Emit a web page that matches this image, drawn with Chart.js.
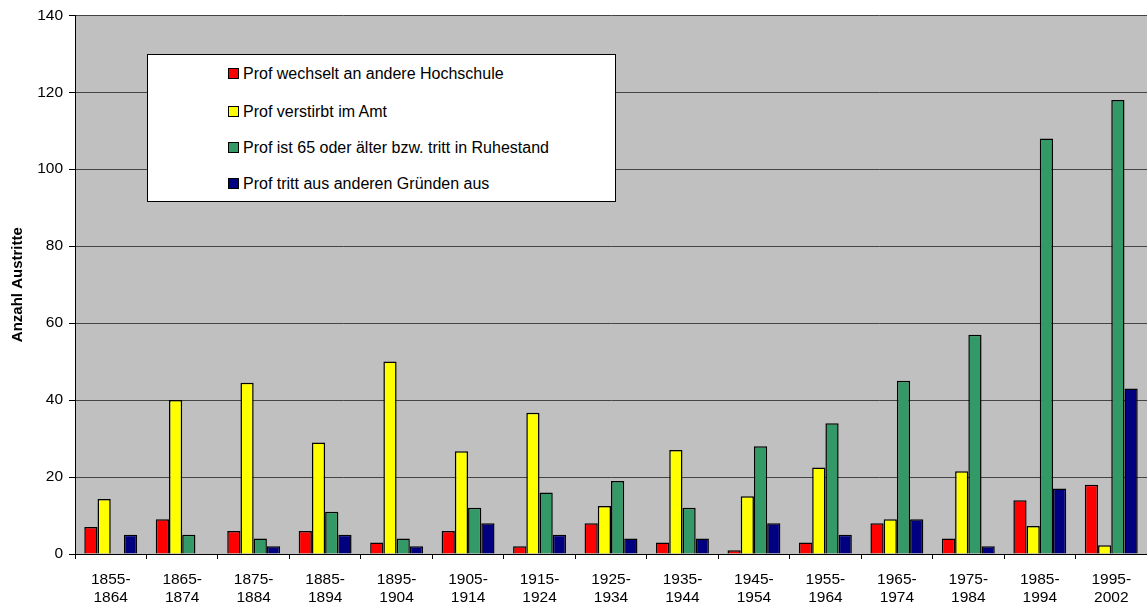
<!DOCTYPE html>
<html>
<head>
<meta charset="utf-8">
<script src="https://cdn.jsdelivr.net/npm/chart.js@4/dist/chart.umd.min.js"></script>
<style>
  html, body { margin: 0; padding: 0; background: #fff; }
  #wrap { position: relative; width: 1147px; height: 607px; }
  #legend {
    position: absolute; left: 147px; top: 54px; width: 467px; height: 146px;
    background: #fff; border: 1px solid #000;
    font-family: "Liberation Sans", Arial, sans-serif; font-size: 16px; color: #000;
  }
  #legend div { position: absolute; left: 80px; height: 20px; line-height: 20px; white-space: nowrap; }
  #legend span { display: inline-block; width: 9px; height: 9px; border: 1px solid #000; margin-right: 4px; vertical-align: 0px; }
</style>
</head>
<body>
<div id="wrap">
  <canvas id="chart" width="1147" height="607"></canvas>
  <div id="legend"></div>
</div>
<script>
var periods = [['1855-','1864'],['1865-','1874'],['1875-','1884'],['1885-','1894'],['1895-','1904'],
  ['1905-','1914'],['1915-','1924'],['1925-','1934'],['1935-','1944'],['1945-','1954'],
  ['1955-','1964'],['1965-','1974'],['1975-','1984'],['1985-','1994'],['1995-','2002']];

var wechsel   = [7, 9, 6, 6, 3, 6, 2, 8, 3, 1, 3, 8, 4, 14, 18];
var verstirbt = [14.3, 40, 44.5, 29, 50, 26.7, 36.7, 12.5, 27, 15, 22.5, 9, 21.5, 7.3, 2.3];
var ruhestand = [0, 5, 4, 11, 4, 12, 16, 19, 12, 28, 34, 45, 57, 108, 118];
var andere    = [5, 0, 2, 5, 2, 8, 5, 4, 4, 8, 5, 9, 2, 17, 43];

var seriesNames = ['Prof wechselt an andere Hochschule', 'Prof verstirbt im Amt',
  'Prof ist 65 oder älter bzw. tritt in Ruhestand', 'Prof tritt aus anderen Gründen aus'];
var seriesColors = ['#ff0000', '#ffff00', '#339966', '#000080'];
var seriesData = [wechsel, verstirbt, ruhestand, andere];

var font = '"Liberation Sans", Arial, sans-serif';

// grey plot background
var plotBg = {
  id: 'plotBg',
  beforeDraw: function (chart) {
    var a = chart.chartArea, c = chart.ctx;
    c.save();
    c.fillStyle = '#c0c0c0';
    c.fillRect(a.left, a.top, a.right - a.left, a.bottom - a.top);
    c.restore();
  }
};

var datasets = seriesData.map(function (d, i) {
  return {
    label: seriesNames[i],
    data: d,
    backgroundColor: seriesColors[i],
    borderColor: '#000',
    borderWidth: 1.5,
    borderSkipped: 'bottom',
    categoryPercentage: 0.74,
    barPercentage: 1.0
  };
});

var ctx = document.getElementById('chart').getContext('2d');
var myChart = new Chart(ctx, {
  type: 'bar',
  data: { labels: periods, datasets: datasets },
  plugins: [plotBg],
  options: {
    responsive: false,
    animation: false,
    layout: { padding: { top: 15, right: 0, left: 0, bottom: 0 } },
    plugins: { legend: { display: false }, tooltip: { enabled: false } },
    scales: {
      x: {
        afterFit: function (s) { s.height = 53; },
        grid: { offset: true, drawOnChartArea: false, drawTicks: true, tickLength: 5, color: '#000' },
        border: { color: '#000', width: 1 },
        ticks: { color: '#000', padding: 12, maxRotation: 0, autoSkip: false,
          font: { family: font, size: 15.5, lineHeight: '18px' } }
      },
      y: {
        min: 0,
        max: 140,
        afterFit: function (s) { s.width = 75; },
        grid: { color: '#444', lineWidth: 1, tickLength: 6, tickColor: '#000' },
        border: { color: '#000', width: 1 },
        ticks: { stepSize: 20, color: '#000', padding: 6, font: { family: font, size: 15.5 } },
        title: { display: true, text: 'Anzahl Austritte', color: '#000', padding: { top: 9, bottom: 0 },
          font: { family: font, size: 15, weight: 'bold' } }
      }
    }
  }
});

// legend box as html, built from the same series arrays
var leg = document.getElementById('legend');
var rowTops = [9, 47, 83, 119];
seriesNames.forEach(function (n, i) {
  var d = document.createElement('div');
  d.style.top = rowTops[i] + 'px';
  var sw = document.createElement('span');
  sw.style.background = seriesColors[i];
  d.appendChild(sw);
  d.appendChild(document.createTextNode(n));
  leg.appendChild(d);
});
</script>
</body>
</html>
